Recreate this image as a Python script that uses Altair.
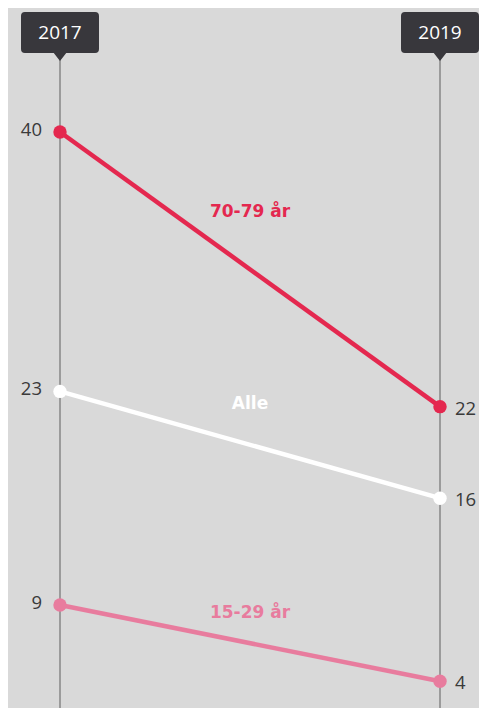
import altair as alt
import pandas as pd

# ---- data ----
years = [2017, 2019]
year_labels = ["2017", "2019"]
series = ["70-79 år", "Alle", "15-29 år"]
v2017 = [40, 23, 9]
v2019 = [22, 16, 4]
colors = ["#e4284f", "#ffffff", "#e87c9e"]

rows = []
for s, a, b in zip(series, v2017, v2019):
    rows.append({"series": s, "year": years[0], "value": a})
    rows.append({"series": s, "year": years[1], "value": b})
df = pd.DataFrame(rows)
hdr = pd.DataFrame({"year": years, "label": year_labels})

xs = alt.Scale(domain=[2017, 2019], range=[52, 432])
ys = alt.Scale(domain=[9, 40], range=[597, 124])
X = alt.X("year:Q", scale=xs, axis=None)
Y = alt.Y("value:Q", scale=ys, axis=None)
C = alt.Color("series:N", scale=alt.Scale(domain=series, range=colors), legend=None)

base = alt.Chart(df)

rules = alt.Chart(hdr).mark_rule(color="#9b9b9b", strokeWidth=2).encode(
    x=X, y=alt.value(44), y2=alt.value(700)
)

box_path = ("M-0.9,-0.526 L0.9,-0.526 Q1,-0.526 1,-0.426 L1,0.426 Q1,0.526 0.9,0.526 "
            "L0.16,0.526 L0,0.73 L-0.16,0.526 L-0.9,0.526 Q-1,0.526 -1,0.426 "
            "L-1,-0.426 Q-1,-0.526 -0.9,-0.526 Z")
boxes = alt.Chart(hdr).mark_point(
    shape=box_path, filled=True, color="#38373c", opacity=1, size=78 * 78, strokeWidth=0
).encode(x=X, y=alt.value(24.5))

box_text = alt.Chart(hdr).mark_text(
    font="Open Sans", fontSize=19, color="#ffffff", baseline="middle"
).encode(x=X, y=alt.value(25), text="label:N")

lines = base.mark_line(strokeWidth=4.5).encode(x=X, y=Y, color=C, detail="series:N")
points = base.mark_circle(size=180, opacity=1).encode(x=X, y=Y, color=C)

left = base.transform_filter(alt.datum.year == 2017).mark_text(
    align="right", baseline="middle", dx=-18, dy=-2, font="Open Sans", fontSize=18.5, color="#3a3a3a"
).encode(x=X, y=Y, text="value:Q")
right = base.transform_filter(alt.datum.year == 2019).mark_text(
    align="left", baseline="middle", dx=15, dy=2, font="Open Sans", fontSize=18.5, color="#3a3a3a"
).encode(x=X, y=Y, text="value:Q")

def series_label(name, dy):
    return base.transform_filter(alt.datum.series == name).transform_aggregate(
        year="mean(year)", value="mean(value)", groupby=["series"]
    ).mark_text(
        font="DejaVu Sans", fontWeight="bold", fontSize=17, baseline="middle", dy=dy
    ).encode(x=X, y=Y, text="series:N", color=C)

labels = series_label("70-79 år", -57) + series_label("Alle", -41) + series_label("15-29 år", -30)

chart = alt.layer(
    rules, boxes, box_text, lines, points, left, right, labels
).properties(
    width=471, height=700, padding=0, background="#d9d9d9",
    autosize=alt.AutoSizeParams(type="none")
).configure_view(stroke=None)

chart.save("out.html", embed_options={"renderer": "svg", "actions": False})
